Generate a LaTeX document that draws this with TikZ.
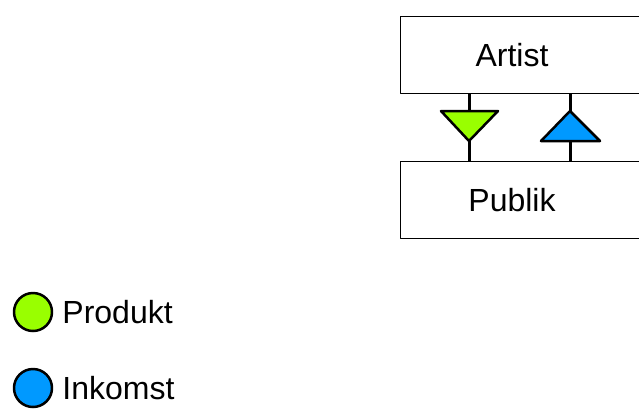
\documentclass[tikz,border=0pt]{standalone}
\usepackage{fontspec}
\setmainfont{Liberation Sans}
\usepackage{tikz}
\usetikzlibrary{positioning}
\definecolor{prodgreen}{HTML}{99FF00}
\definecolor{inkblue}{HTML}{0099FF}
\tikzset{
  party/.style={draw,line width=1pt,minimum width=260pt,minimum height=77pt,anchor=north west,inner sep=0pt},
  word/.style={font=\fontsize{32}{38}\selectfont,inner sep=0pt},
  flow/.style={line width=3pt},
  dot/.style={circle,draw,line width=2.5pt,minimum size=38pt,inner sep=0pt}
}
\begin{document}
\begin{tikzpicture}[x=1pt,y=-1pt,join=round] % Artist and Publik
       \useasboundingbox (0,0) rectangle (639,408);
       \node[party] (artistbox) at (400,16) {};
       \node[party] (publikbox) at (400,161) {};
       \node[word] (artist) at (512,55) {Artist};
       \node[word] (publik) at (512,200) {Publik};
       % product flows down, income flows up
       \coordinate (pt) at (469,111);
       \coordinate (pb) at (469,141);
       \coordinate (it) at (570,111);
       \coordinate (ib) at (570,141);
       \draw[flow] (pt) -- (pt |- artistbox.south);
       \draw[flow] (pb) -- (pb |- publikbox.north);
       \draw[flow] (it) -- (it |- artistbox.south);
       \draw[flow] (ib) -- (ib |- publikbox.north);
       \filldraw[fill=prodgreen,line width=2.5pt](441,111)--(498,111)--(pb)--cycle;
       \filldraw[fill=inkblue,line width=2.5pt](541,141)--(600,141)--(it)--cycle;
       % legend
       \node[dot,fill=prodgreen] (prod) at (33,312) {};
       \node[dot,fill=inkblue] (ink) at (33,388) {};
       \node[word,right=9pt of prod] (produkt) {Produkt};
       \node[word,right=9pt of ink] (inkomst) {Inkomst};
\end{tikzpicture}
\end{document}
